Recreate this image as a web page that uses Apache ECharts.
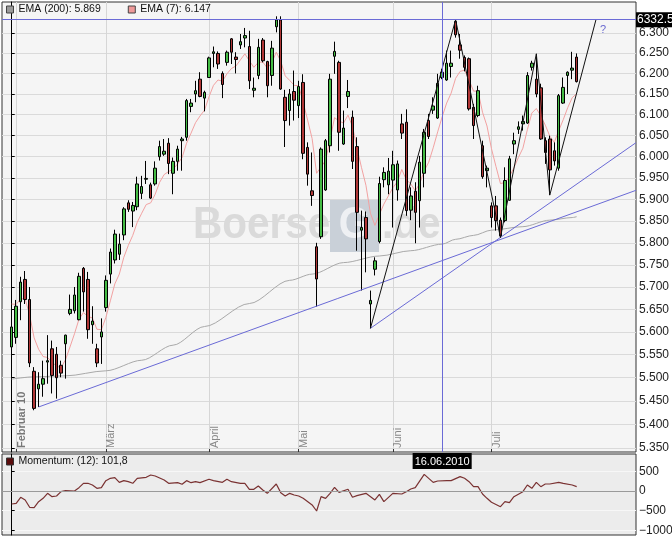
<!DOCTYPE html>
<html><head><meta charset="utf-8">
<script src="https://cdn.jsdelivr.net/npm/echarts@6.0.0/dist/echarts.min.js"></script>
<style>html,body{margin:0;padding:0;background:#fff}#c{width:672px;height:536px}</style>
</head><body><div id="c"></div>
<script>
// ---------- data ----------
const tradingDays = {
  '2010-01': [29],
  '2010-02': [1,2,3,4,5,8,9,10,11,12,15,16,17,18,19,22,23,24,25,26],
  '2010-03': [1,2,3,4,5,8,9,10,11,12,15,16,17,18,19,22,23,24,25,26,29,30,31],
  '2010-04': [1,6,7,8,9,12,13,14,15,16,19,20,21,22,23,26,27,28,29,30],
  '2010-05': [3,4,5,6,7,10,11,12,13,14,17,18,19,20,21,24,25,26,27,28,31],
  '2010-06': [1,2,3,4,7,8,9,10,11,14,15,16,17,18,21,22,23,24,25,28,29,30],
  '2010-07': [1,2,5,6,7,8,9,12,13,14,15,16,19,20,21,22,23,26,27,28]
};
const openVals = [5567,5588,5667,5717,5672,5514,5476,5486,5534,5563,5551,5527,5574,5641,5647,5627,5742,5717,5616,5563,5589,5654,5729,5761,5774,5818,5892,5873,5883,5914,5947,5934,5936,6000,6006,6032,5961,5989,6038,6046,6120,6150,6186,6140,6190,6249,6249,6200,6227,6285,6240,6270,6287,6266,6159,6195,6282,6229,6195,6315,6332,6142,6110,6156,6122,6178,6022,5920,5791,5814,5922,6026,6242,6227,6030,6144,6094,6024,5829,5858,5662,5740,5803,5946,5934,5945,5922,6078,6082,5875,5919,5897,5961,6086,6111,6092,6190,6184,6217,6328,6270,6239,6236,6118,6098,6026,5967,5885,5885,5852,5851,5898,6030,6065,6078,6080,6215,6186,6165,6038,6042,6014,5973,6128,6195,6208,6240];
const closeVals = [5611,5657,5711,5672,5532,5434,5486,5498,5537,5505,5500,5510,5593,5650,5682,5724,5689,5605,5624,5532,5600,5715,5779,5820,5797,5878,5877,5886,5936,5930,5949,5903,5973,6024,6013,5984,5989,6018,6042,6134,6128,6158,6144,6154,6238,6253,6223,6173,6252,6252,6234,6278,6293,6182,6164,6264,6231,6170,6262,6332,6162,6086,6150,6135,6168,6008,5959,5909,5718,6018,6038,6186,6254,6058,6068,6156,5989,5870,5835,5809,5670,5759,5937,5963,5966,5981,5983,6056,5874,5908,5870,5987,6058,6048,6121,6176,6203,6225,6225,6295,6257,6215,6114,6074,6158,5953,5973,5858,5851,5816,5944,5995,6038,6071,6084,6195,6225,6150,6042,6010,5969,5990,6146,6166,6203,6213,6180];
const lowVals = [5556,5574,5626,5662,5523,5430,5437,5459,5487,5466,5455,5501,5498,5637,5641,5626,5645,5585,5574,5523,5530,5645,5708,5753,5761,5806,5871,5836,5875,5901,5936,5901,5932,5991,6002,5959,5912,5967,5967,6038,6106,6130,6142,6108,6189,6215,6211,6140,6219,6223,6200,6260,6264,6162,6142,6186,6227,6142,6170,6301,6160,6023,6074,6086,6092,5994,5932,5885,5656,5809,5920,6010,6199,6014,6028,6116,5971,5782,5692,5733,5608,5726,5799,5928,5912,5835,5897,6042,5862,5852,5799,5835,5928,6042,6102,6090,6186,6182,6190,6288,6236,6205,6110,6042,6094,5948,5928,5835,5828,5812,5847,5897,6006,6054,6062,6078,6207,6142,6040,5983,5910,5979,5967,6126,6150,6186,6178];
const highVals = [5626,5671,5723,5736,5700,5523,5512,5537,5593,5581,5567,5537,5594,5683,5700,5732,5745,5734,5657,5574,5630,5726,5787,5830,5821,5882,5898,5894,5953,5955,5990,5939,5989,6038,6042,6044,5998,6026,6047,6138,6138,6182,6203,6158,6241,6266,6254,6205,6256,6287,6252,6297,6312,6305,6190,6285,6287,6231,6280,6341,6341,6160,6162,6207,6182,6198,6034,6010,5800,6022,6042,6199,6278,6231,6110,6184,6110,6046,5874,5872,5692,5767,5953,5975,5997,6014,5991,6102,6113,5928,5940,6002,6066,6102,6142,6199,6211,6256,6256,6332.5,6297,6244,6239,6126,6170,6038,5979,5893,5908,5858,5975,6002,6057,6084,6098,6203,6231,6248,6175,6046,6050,6034,6150,6190,6205,6253,6249];
const ema7Vals = [5662,5661,5674,5673,5638,5587,5562,5546,5544,5534,5525,5522,5539,5567,5596,5628,5643,5634,5631,5606,5605,5632,5669,5707,5729,5767,5794,5817,5847,5868,5888,5892,5912,5940,5958,5965,5971,5983,5998,6032,6056,6081,6097,6111,6143,6171,6184,6181,6199,6212,6218,6233,6248,6231,6215,6227,6228,6213,6226,6252,6230,6194,6183,6171,6170,6130,6087,6043,5961,5976,5991,6040,6093,6085,6080,6099,6072,6021,5975,5933,5868,5840,5865,5889,5908,5927,5941,5970,5946,5936,5920,5937,5967,5987,6021,6059,6095,6128,6152,6188,6205,6208,6184,6157,6157,6106,6073,6019,5977,5937,5939,5953,5974,5998,6020,6064,6104,6115,6097,6075,6049,6034,6062,6088,6117,6141,6151];
// EMA(200) read at selected days (day index in dates -> value)
const ema200Days = [0,5,12,21,29,36,43,53,62,67,74,82,89,96,99,103,107,114,120,125,126];
const ema200Vals = [5497,5502,5504,5515,5538,5571,5612,5663,5715,5729,5755,5770,5782,5797,5808,5817,5829,5837,5852,5858,5860];
const momentumVals = [-330,-312,-160,-228,-414,-423,-271,-186,-59,-144,-127,-17,8,null,0,85,195,195,152,68,85,262,322,338,220,262,237,195,322,null,347,406,381,null,279,195,null,211,170,262,211,237,211,null,297,262,null,220,297,237,null,195,195,43,43,127,25,-59,null,178,-42,-127,-59,-101,-127,-186,null,-355,-508,-144,-186,-59,90,-34,null,43,-160,-119,null,-59,null,-228,-85,-271,null,-59,null,-76,-17,51,85,null,423,null,220,254,null,262,262,null,364,322,237,110,110,-76,-186,-287,null,-398,-271,-296,-144,null,-17,152,68,220,110,178,178,null,220,195,null,152,110];
const yTicks = [6300,6250,6200,6150,6100,6050,6000,5950,5900,5850,5800,5750,5700,5650,5600,5550,5500,5450,5400,5350];
const momTicks = [500,0,-500,-1000];
const monthStartDates = ['01.02.2010','01.03.2010','01.04.2010','03.05.2010','01.06.2010','01.07.2010'];
const monthLabels = ['Februar 10','März','April','Mai','Juni','Juli'];
const peakLevel = 6332.5;
const crossDate = '16.06.2010';
// trend lines: [day index, value]
const blueTrend1 = [[6,5437],[139.2,5921]];
const blueTrend2 = [[80,5608],[139.2,6033]];
const zigzag = [[80,5608],[99,6332.5],[109,5812],[117,6248],[120,5910],[130.3,6332.5]];
const ema200Name = 'EMA (200): 5.869';
const ema7Name = 'EMA (7): 6.147';
const momName = 'Momentum: (12): 101,8';

// ---------- build ----------
const L = Math.log;
const FONT = '"Liberation Sans", Arial, sans-serif';
const dates = [];
Object.keys(tradingDays).forEach(m => tradingDays[m].forEach(d =>
  dates.push(String(d).padStart(2,'0') + '.' + m.slice(5) + '.' + m.slice(0,4))));
const monthK = monthStartDates.map(d => dates.indexOf(d));
const crossK = dates.indexOf(crossDate);
const xMin = -2.163, xMax = 139.23;
const yMinVal = 5341.5, yMaxVal = 6376.8;
const fmtThousands = t => Math.floor(t/1000) + '.' + String(Math.round(t % 1000)).padStart(3,'0');
const yLabel = v => { const t = yTicks.find(t => Math.abs(L(t) - v) < 1e-6); return t == null ? '' : fmtThousands(t); };

const candleData = dates.map((d,k) => [k, L(openVals[k]), L(closeVals[k]), L(lowVals[k]), L(highVals[k])]);
const ema7Data = dates.map((d,k) => [k, L(ema7Vals[k])]);
const ema200Data = ema200Days.map((k,i) => [k, L(ema200Vals[i])]);
const momData = [];
momentumVals.forEach((v,k) => { if (v != null) momData.push([k, v]); });
const toLn = pts => pts.map(p => [p[0], L(p[1])]);

const BLUE = '#6a6ad6';
const WM_FONT = 'bold 45px "Liberation Sans"';
const chart = echarts.init(document.getElementById('c'), null, {renderer: 'canvas'});
chart.setOption({
  animation: false,
  backgroundColor: '#ffffff',
  textStyle: {fontFamily: FONT},
  grid: [
    {left: 2, right: 36, top: 2, bottom: 84, show: true, backgroundColor: '#f5f5f5', borderColor: '#333', borderWidth: 1, outerBoundsMode: 'none', containLabel: false},
    {left: 2, right: 36, top: 454, bottom: 1, show: true, backgroundColor: '#ececec', borderColor: '#333', borderWidth: 1, outerBoundsMode: 'none', containLabel: false}
  ],
  legend: [
    {left: 6, top: 4, padding: 0, itemWidth: 7, itemHeight: 7, itemGap: 27, icon: 'rect', selectedMode: false,
     textStyle: {fontSize: 10.5, color: '#111', fontFamily: FONT},
     data: [{name: ema200Name, itemStyle: {color: '#9a9a9a', borderColor: '#444', borderWidth: 1}},
            {name: ema7Name, itemStyle: {color: '#f09a9a', borderColor: '#444', borderWidth: 1}}]},
    {left: 6, top: 456, padding: 0, itemWidth: 7, itemHeight: 7, icon: 'rect', selectedMode: false,
     textStyle: {fontSize: 10.5, color: '#111', fontFamily: FONT},
     data: [{name: momName, itemStyle: {color: '#5a0c0c', borderColor: '#333', borderWidth: 1}}]}
  ],
  xAxis: [
    {type: 'value', gridIndex: 0, min: xMin, max: xMax,
     axisLine: {show: false},
     axisTick: {show: true, customValues: monthK, inside: true, length: 3, lineStyle: {color: '#333'}},
     axisLabel: {show: true, customValues: monthK, inside: true, rotate: 90, align: 'left', verticalAlign: 'top', margin: 4,
       color: '#888', fontSize: 11, fontFamily: FONT,
       formatter: v => { const i = monthK.indexOf(v); return i === 0 ? '{b|' + monthLabels[i] + '}' : (i > 0 ? monthLabels[i] : ''); },
       rich: {b: {fontWeight: 'bold', color: '#777', fontSize: 11, fontFamily: FONT}}},
     splitLine: {show: true, lineStyle: {color: '#d6d6d6', width: 1}}},
    {type: 'value', gridIndex: 1, min: xMin, max: xMax, show: false, splitLine: {show: false}}
  ],
  yAxis: [
    {type: 'value', gridIndex: 0, position: 'right', min: L(yMinVal), max: L(yMaxVal),
     axisLine: {show: true, lineStyle: {color: '#000'}},
     axisTick: {show: true, customValues: yTicks.map(L), length: 3, lineStyle: {color: '#000'}},
     axisLabel: {show: true, customValues: yTicks.map(L), margin: 3, color: '#222', fontSize: 12, fontFamily: FONT, formatter: yLabel},
     splitLine: {show: true, lineStyle: {color: '#dadada', width: 1}}},
    {type: 'value', gridIndex: 1, position: 'right', min: -1117, max: 939,
     axisLine: {show: true, lineStyle: {color: '#000'}},
     axisTick: {show: true, customValues: momTicks, length: 3, lineStyle: {color: '#000'}},
     axisLabel: {show: true, customValues: momTicks, margin: 3, color: '#222', fontSize: 12, fontFamily: FONT,
       formatter: v => v < 0 ? '\u2212' + (-v) : String(v)},
     splitLine: {show: true, lineStyle: {color: '#f7f7f7', width: 1}}}
  ],
  graphic: [
    {type: 'text', x: 193, y: 226, scaleX: 0.9, z: 1, silent: true,
     style: {x: 0, y: 0, text: 'Boerse', font: WM_FONT, fill: '#dadada', align: 'left', verticalAlign: 'middle'}},
    {type: 'rect', z: 1, silent: true, shape: {x: 330, y: 200, width: 49, height: 52}, style: {fill: '#c9d0d8'}},
    {type: 'text', x: 354.5, y: 226, scaleX: 0.9, z: 1, silent: true,
     style: {x: 0, y: 0, text: 'G', font: WM_FONT, fill: '#eef0f3', align: 'center', verticalAlign: 'middle'}},
    {type: 'text', x: 382, y: 226, scaleX: 0.9, z: 1, silent: true,
     style: {x: 0, y: 0, text: '.de', font: WM_FONT, fill: '#dadada', align: 'left', verticalAlign: 'middle'}},
    {type: 'text', z: 10, silent: true,
     style: {x: 600, y: 30, text: '?', font: '11px "Liberation Sans"', fill: '#6a6ad0', align: 'left', verticalAlign: 'middle'}}
  ],
  series: [
    {name: ema200Name, type: 'line', xAxisIndex: 0, yAxisIndex: 0, data: ema200Data, showSymbol: false, symbol: 'none',
     smooth: 0.3, smoothMonotone: 'x', lineStyle: {color: '#a9a9a9', width: 1}, itemStyle: {color: '#9a9a9a'}, z: 2, silent: true},
    {name: ema7Name, type: 'line', xAxisIndex: 0, yAxisIndex: 0, data: ema7Data, showSymbol: false, symbol: 'none',
     lineStyle: {color: '#f2a2a2', width: 1}, itemStyle: {color: '#f09a9a'}, z: 2, silent: true},
    {name: 'DAX', type: 'candlestick', xAxisIndex: 0, yAxisIndex: 0, data: candleData, encode: {x: 0, y: [1,2,3,4]},
     barWidth: 3, z: 3, silent: true,
     itemStyle: {color: '#44bb44', color0: '#b03636', borderColor: '#000', borderColor0: '#000', borderColorDoji: '#000', borderWidth: 1},
     markLine: {symbol: 'none', silent: true, animation: false, precision: 12,
       data: [
         {yAxis: L(peakLevel), lineStyle: {color: BLUE, width: 1, type: 'solid'},
          label: {show: true, position: 'end', distance: 0, formatter: String(peakLevel), color: '#fff', backgroundColor: '#000',
                  padding: [2, 1, 1, 1], fontSize: 12, fontFamily: FONT}},
         {xAxis: crossK, lineStyle: {color: BLUE, width: 1, type: 'solid'},
          label: {show: true, position: 'start', distance: 1, formatter: dates[crossK], color: '#fff', backgroundColor: '#000',
                  padding: [3, 2, 2, 2], fontSize: 11, fontFamily: FONT}}
       ]}},
    {name: 'trend1', type: 'line', xAxisIndex: 0, yAxisIndex: 0, data: toLn(blueTrend1), symbol: 'none', lineStyle: {color: BLUE, width: 1}, z: 4, silent: true},
    {name: 'trend2', type: 'line', xAxisIndex: 0, yAxisIndex: 0, data: toLn(blueTrend2), symbol: 'none', lineStyle: {color: BLUE, width: 1}, z: 4, silent: true},
    {name: 'zigzag', type: 'line', xAxisIndex: 0, yAxisIndex: 0, data: toLn(zigzag), symbol: 'none', lineStyle: {color: '#111', width: 1}, z: 4, silent: true},
    {name: momName, type: 'line', xAxisIndex: 1, yAxisIndex: 1, data: momData, symbol: 'none', showSymbol: false,
     lineStyle: {color: '#7a3232', width: 1.2}, itemStyle: {color: '#5a0c0c'}, z: 3, silent: true,
     markLine: {symbol: 'none', silent: true, precision: 12, label: {show: false}, data: [{yAxis: 0}], lineStyle: {color: '#9a9a9a', width: 1, type: 'solid'}}}
  ]
});
</script></body></html>
